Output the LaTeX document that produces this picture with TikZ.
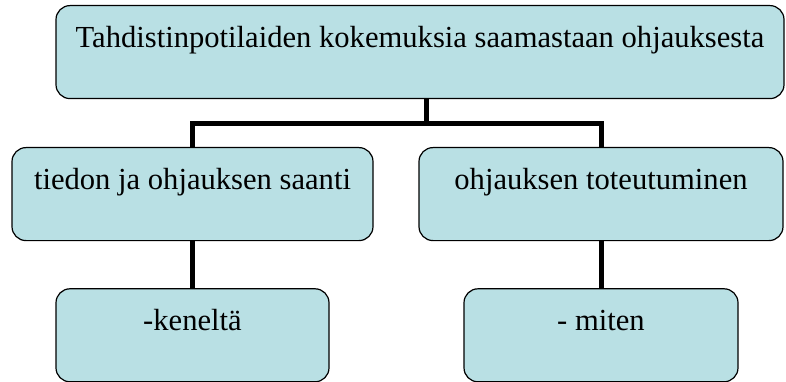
\documentclass[tikz,border=0pt]{standalone}
\usepackage{fontspec}
\setmainfont{Liberation Serif}
\usetikzlibrary{positioning}
\definecolor{laatikko}{RGB}{185,224,228}

\begin{document}
\begin{tikzpicture}[x=1pt, y=-1pt, node distance=47pt,
	kohta/.style={rectangle, rounded corners=14pt, draw, line width=1.2pt, fill=laatikko,
		inner sep=0pt, text height=42pt, text depth=51pt, font=\fontsize{30.6}{36}\selectfont},
	haara/.style={line width=5pt}]
	\useasboundingbox (0,0) rectangle (786,382);
	\node[kohta, minimum width=728pt, anchor=north] (juuri) at (420,5) {Tahdistinpotilaiden kokemuksia saamastaan ohjauksesta};
	\node[kohta, minimum width=361pt, anchor=north] (tieto) at (192.5,147) {tiedon ja ohjauksen saanti};
	\node[kohta, minimum width=364pt, anchor=north] (toteutus) at (601,147) {ohjauksen toteutuminen};
	\node[kohta, minimum width=273pt] (keneltä) [below=of tieto] {-keneltä};
	\node[kohta, minimum width=274pt] (miten) [below=of toteutus] {- miten};
	
	\coordinate (jako) at (426,124);
	\draw[haara] (juuri.south -| jako) -- (jako);
	\draw[haara] (tieto.north) |- (jako) -| (toteutus.north);
	\draw[haara] (tieto) -- (keneltä);
	\draw[haara] (toteutus) -- (miten);
\end{tikzpicture}
\end{document}
